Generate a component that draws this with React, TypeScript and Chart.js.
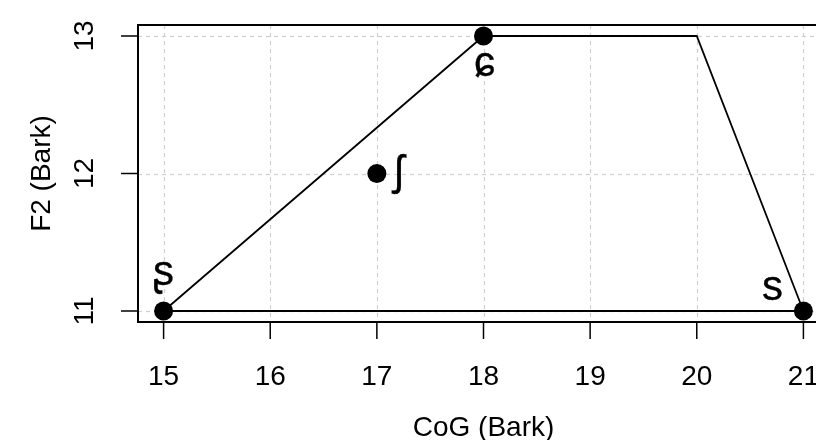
import React, { useEffect, useRef } from "react";
import { Chart, registerables } from "chart.js";

Chart.register(...registerables);

// Data
const polygonX = [15, 18, 20, 21, 15];
const polygonY = [11, 13, 13, 11, 11];
const pointX = [15, 17, 18, 21];
const pointY = [11, 12, 13, 11];
const pointLabels = ["ʂ", "ʃ", "ɕ", "s"];
// label offsets relative to the point, in px (dx, baseline dy)
const labelDX = [0, 22, 1, -31];
const labelDY = [-26, 11, 40, -11];
const xTicks = [15, 16, 17, 18, 19, 20, 21];
const yTicks = [11, 12, 13];
const xTitle = "CoG (Bark)";
const yTitle = "F2 (Bark)";

const FONT = "'Liberation Sans', Arial, Helvetica, 'DejaVu Sans', sans-serif";

const rPlugin = {
  id: "rStyle",
  beforeDatasetsDraw(chart: any) {
    const { ctx, chartArea } = chart;
    const xs = chart.scales.x;
    const ys = chart.scales.y;
    ctx.save();
    ctx.strokeStyle = "#cfcfcf";
    ctx.lineWidth = 1.2;
    ctx.setLineDash([4, 4]);
    xTicks.forEach((v) => {
      const px = Math.round(xs.getPixelForValue(v)) + 0.5;
      ctx.beginPath();
      ctx.moveTo(px, chartArea.top);
      ctx.lineTo(px, chartArea.bottom);
      ctx.stroke();
    });
    yTicks.forEach((v) => {
      const py = Math.round(ys.getPixelForValue(v)) + 0.5;
      ctx.beginPath();
      ctx.moveTo(chartArea.left, py);
      ctx.lineTo(chartArea.right, py);
      ctx.stroke();
    });
    ctx.restore();
  },
  afterDraw(chart: any) {
    const { ctx, chartArea } = chart;
    const xs = chart.scales.x;
    const ys = chart.scales.y;
    ctx.save();
    // box
    ctx.strokeStyle = "#000";
    ctx.lineWidth = 2;
    ctx.setLineDash([]);
    ctx.strokeRect(chartArea.left, chartArea.top, chartArea.right - chartArea.left, chartArea.bottom - chartArea.top);
    // tick marks
    ctx.lineWidth = 1.5;
    xTicks.forEach((v) => {
      const px = xs.getPixelForValue(v);
      ctx.beginPath();
      ctx.moveTo(px, chartArea.bottom);
      ctx.lineTo(px, chartArea.bottom + 17);
      ctx.stroke();
    });
    yTicks.forEach((v) => {
      const py = ys.getPixelForValue(v);
      ctx.beginPath();
      ctx.moveTo(chartArea.left, py);
      ctx.lineTo(chartArea.left - 17, py);
      ctx.stroke();
    });
    ctx.fillStyle = "#000";
    ctx.font = `28px ${FONT}`;
    ctx.textAlign = "center";
    ctx.textBaseline = "alphabetic";
    xTicks.forEach((v) => {
      ctx.fillText(String(v), xs.getPixelForValue(v), 385);
    });
    ctx.fillText(xTitle, (chartArea.left + chartArea.right) / 2, 436);
    yTicks.forEach((v) => {
      ctx.save();
      ctx.translate(93, ys.getPixelForValue(v));
      ctx.rotate(-Math.PI / 2);
      ctx.fillText(String(v), 0, 0);
      ctx.restore();
    });
    ctx.save();
    ctx.translate(50, (chartArea.top + chartArea.bottom) / 2);
    ctx.rotate(-Math.PI / 2);
    ctx.fillText(yTitle, 0, 0);
    ctx.restore();
    // point labels
    ctx.font = `42px ${FONT}`;
    ctx.strokeStyle = "#000";
    ctx.lineWidth = 0.3;
    pointLabels.forEach((lab, i) => {
      const px = xs.getPixelForValue(pointX[i]) + labelDX[i];
      const py = ys.getPixelForValue(pointY[i]) + labelDY[i];
      ctx.fillText(lab, px, py);
      ctx.strokeText(lab, px, py);
    });
    ctx.restore();
  },
};

export default function App() {
  const ref = useRef<HTMLCanvasElement | null>(null);
  useEffect(() => {
    if (!ref.current) return;
    const chart = new Chart(ref.current, {
      type: "scatter",
      data: {
        datasets: [
          {
            data: polygonX.map((x, i) => ({ x, y: polygonY[i] })),
            showLine: true,
            borderColor: "#000",
            borderWidth: 1.8,
            pointRadius: 0,
            fill: false,
            tension: 0,
          },
          {
            data: pointX.map((x, i) => ({ x, y: pointY[i] })),
            showLine: false,
            pointRadius: 9.5,
            pointBackgroundColor: "#000",
            pointBorderWidth: 0,
            backgroundColor: "#000",
            borderColor: "#000",
          },
        ],
      },
      options: {
        responsive: false,
        animation: false,
        devicePixelRatio: 1,
        layout: { padding: { left: 0, top: 25, right: 21, bottom: 0 } },
        plugins: { legend: { display: false }, tooltip: { enabled: false } },
        scales: {
          x: {
            type: "linear",
            min: 14.76,
            max: 21.24,
            ticks: { display: false },
            grid: { display: false },
            border: { display: false },
            afterFit: (s: any) => {
              s.height = 118;
            },
          },
          y: {
            type: "linear",
            min: 10.92,
            max: 13.08,
            ticks: { display: false },
            grid: { display: false },
            border: { display: false },
            afterFit: (s: any) => {
              s.width = 138;
            },
          },
        },
      },
      plugins: [rPlugin],
    } as any);
    return () => chart.destroy();
  }, []);
  return (
    <div style={{ position: "fixed", left: 0, top: 0, width: 816, height: 440, overflow: "hidden", background: "#fff" }}>
      <canvas ref={ref} width={850} height={440} style={{ width: 850, height: 440, display: "block" }} />
    </div>
  );
}
